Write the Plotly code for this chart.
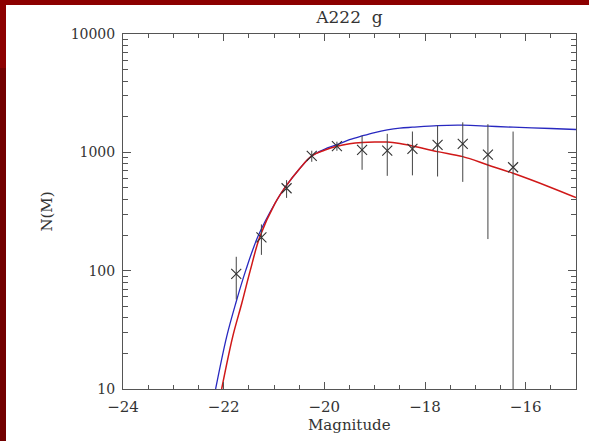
import plotly.graph_objects as go

# ---- data ----
mags = [-21.75, -21.25, -20.75, -20.25, -19.75, -19.25, -18.75, -18.25, -17.75, -17.25, -16.75, -16.25]
counts = [94, 191, 497, 932, 1130, 1047, 1033, 1069, 1155, 1178, 957, 748]
errors = [37, 55, 85, 100, 100, 335, 400, 430, 530, 615, 772, 750]

blue_x = [-22.16, -21.94, -21.76, -21.56, -21.32, -20.98, -20.77, -20.5, -20.25, -20.0, -19.75, -19.5,
          -19.25, -19.0, -18.75, -18.5, -18.25, -17.75, -17.25, -16.75, -16.25, -15.5, -15.0]
blue_y = [10, 27.7, 53, 101, 194, 371, 513, 720, 932, 1060, 1160, 1280,
          1377, 1470, 1546, 1600, 1630, 1683, 1695, 1665, 1630, 1590, 1560]

red_x = [-22.04, -21.82, -21.64, -21.47, -21.28, -20.98, -20.77, -20.5, -20.25, -20.0, -19.75, -19.5,
         -19.25, -19.0, -18.75, -18.5, -18.25, -17.75, -17.25, -16.75, -16.25, -15.5, -15.0]
red_y = [10, 27.7, 53, 101, 194, 371, 513, 720, 932, 1040, 1125, 1180,
         1210, 1222, 1220, 1185, 1132, 1014, 920, 782, 665, 505, 414]

x_ticks = [-24, -22, -20, -18, -16]
x_ticktext = ["\u221224", "\u221222", "\u221220", "\u221218", "\u221216"]
y_ticks = [10, 100, 1000, 10000]
y_ticktext = ["10", "100", "1000", "10000"]
y_minor = [m * d for d in (10, 100, 1000) for m in range(2, 10)]

FONT = "DejaVu Serif"
AX = "#555555"
TXT = "#333333"

fig = go.Figure()
fig.add_trace(go.Scatter(x=blue_x, y=blue_y, mode="lines", line=dict(color="#2828c0", width=1.3, shape="spline"),
                         showlegend=False, hoverinfo="skip"))
fig.add_trace(go.Scatter(x=red_x, y=red_y, mode="lines", line=dict(color="#d01818", width=1.5, shape="spline"),
                         showlegend=False, hoverinfo="skip"))
fig.add_trace(go.Scatter(
    x=mags, y=counts, mode="markers",
    marker=dict(symbol="x-thin", size=10, line=dict(color="#333333", width=1.1)),
    error_y=dict(type="data", array=errors, visible=True, color="#444444", thickness=1, width=0),
    showlegend=False))

W, H = 589, 441
ml, mr, mt, mb = 123, 13, 34, 52
pw, ph = W - ml - mr, H - mt - mb


def px_x(p):
    return (p - ml) / pw


def px_y(p):
    return (H - mb - p) / ph


shapes = [
    dict(type="rect", xref="paper", yref="paper", x0=px_x(0), x1=px_x(6), y0=px_y(441), y1=px_y(0),
         fillcolor="#720000", line=dict(width=0), layer="above"),
    dict(type="rect", xref="paper", yref="paper", x0=px_x(0), x1=px_x(6), y0=px_y(68), y1=px_y(0),
         fillcolor="#8c0000", line=dict(width=0), layer="above"),
    dict(type="rect", xref="paper", yref="paper", x0=px_x(0), x1=px_x(589), y0=px_y(5), y1=px_y(0),
         fillcolor="#8c0000", line=dict(width=0), layer="above"),
]

fig.update_layout(
    width=W, height=H,
    margin=dict(l=ml, r=mr, t=mt, b=mb),
    paper_bgcolor="white", plot_bgcolor="white",
    font=dict(family=FONT, color=TXT, size=13),
    title=dict(text="A222  g", x=(ml + pw / 2) / W, xanchor="center", y=1 - 17 / H, yanchor="middle",
               yref="container", font=dict(family=FONT, size=17, color=TXT)),
    shapes=shapes,
    annotations=[dict(text="Magnitude", xref="paper", yref="paper", x=0.5, y=px_y(425),
                      xanchor="center", yanchor="middle", showarrow=False,
                      font=dict(family=FONT, size=15, color=TXT))],
    xaxis=dict(range=[-24, -15], tickvals=x_ticks, ticktext=x_ticktext, ticks="inside", ticklen=7,
               tickcolor=AX, tickwidth=1, showline=True, linecolor=AX, linewidth=1, mirror="allticks",
               showgrid=False, zeroline=False, tickfont=dict(size=15), ticklabelstandoff=4,
               minor=dict(dtick=0.5, tick0=-24, ticks="inside", ticklen=4, tickcolor=AX, showgrid=False)),
    yaxis=dict(type="log", range=[1, 4], tickvals=y_ticks, ticktext=y_ticktext, ticks="inside", ticklen=8,
               tickcolor=AX, tickwidth=1, showline=True, linecolor=AX, linewidth=1, mirror="allticks",
               showgrid=False, zeroline=False, tickfont=dict(size=14), ticklabelstandoff=4,
               minor=dict(tickvals=y_minor, ticks="inside", ticklen=5, tickcolor=AX, showgrid=False),
               title=dict(text="N(M)", font=dict(size=15), standoff=14)),
)

fig.write_html("out.html", config={"displayModeBar": False},
               post_script="document.body.style.margin='0px';")
